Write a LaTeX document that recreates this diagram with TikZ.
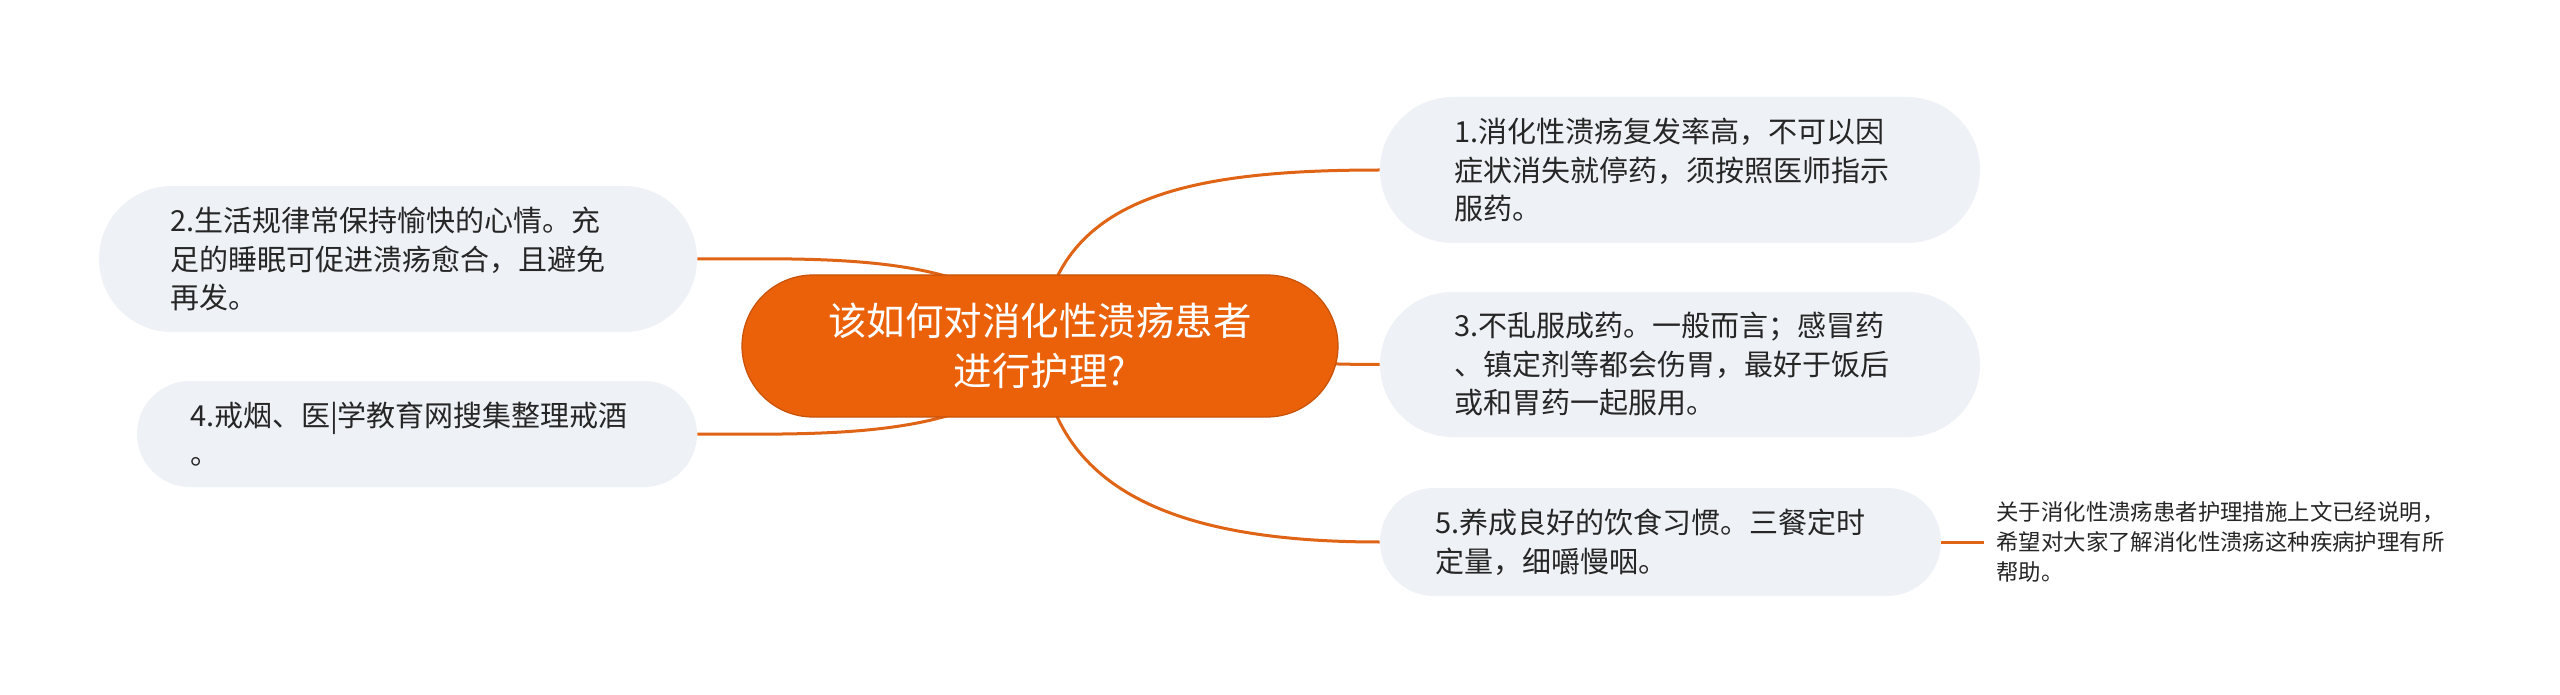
\documentclass[tikz,border=0pt]{standalone}
\usepackage{fontspec}
\setmainfont{Noto Sans CJK SC}
\definecolor{oranzna}{RGB}{234,97,10}
\definecolor{crta}{RGB}{224,100,22}
\definecolor{siva}{RGB}{238,241,245}
\definecolor{besedilo}{RGB}{38,38,38}
\pgfdeclarelayer{ozadje}
\pgfsetlayers{ozadje,main}
\begin{document}
\begin{tikzpicture}[x=0.5pt, y=-0.5pt,
  tema/.style={fill=oranzna, draw=oranzna!85!black, line width=0.6pt, text=white, align=center,
    minimum width=298pt, minimum height=71pt, rounded corners=35.5pt,
    font=\fontsize{19.25pt}{25pt}\selectfont},
  veja/.style={fill=siva, text=besedilo, align=left, inner ysep=0pt,
    font=\fontsize{14.5pt}{19.25pt}\selectfont},
  opomba/.style={text=besedilo, align=left, inner xsep=6pt,
    font=\fontsize{11.2pt}{15pt}\selectfont},
  povezava/.style={draw=crta, line width=1.5pt}]
  % okvir
  \useasboundingbox (0, 0) rectangle (2560, 695);
  % vozlišča
  \node [tema] (T) at (1040, 346) {该如何对消化性溃疡患者\\进行护理?};
  \node [veja, text width=226pt, inner xsep=37pt, minimum height=73pt, rounded corners=36.5pt]
    (V1) at (1680, 170) {1.消化性溃疡复发率高，不可以因\\症状消失就停药，须按照医师指示\\服药。};
  \node [veja, text width=228pt, inner xsep=35.5pt, minimum height=73pt, rounded corners=36.5pt]
    (V2) at (398, 259) {2.生活规律常保持愉快的心情。充\\足的睡眠可促进溃疡愈合，且避免\\再发。};
  \node [veja, text width=226pt, inner xsep=37pt, minimum height=72.5pt, rounded corners=36.25pt]
    (V3) at (1680, 364.5) {3.不乱服成药。一般而言；感冒药\\、镇定剂等都会伤胃，最好于饭后\\或和胃药一起服用。};
  \node [veja, text width=227pt, inner xsep=26.5pt, minimum height=53pt, rounded corners=26.5pt]
    (V4) at (417, 434) {4.戒烟、医|学教育网搜集整理戒酒\\。};
  \node [veja, text width=225.5pt, inner xsep=27.5pt, minimum height=54pt, rounded corners=27pt]
    (V5) at (1660.5, 542) {5.养成良好的饮食习惯。三餐定时\\定量，细嚼慢咽。};
  \node [opomba, anchor=west] (O) at (1984, 542)
    {关于消化性溃疡患者护理措施上文已经说明，\\希望对大家了解消化性溃疡这种疾病护理有所\\帮助。};
  % povezave
  \begin{pgfonlayer}{ozadje}
    \fill [white] (0, 0) rectangle (2560, 695);
    \draw [povezava] (T.center) .. controls +(10, -146) and +(-201, 0) .. (V1.west);
    \draw [povezava] (T.center) .. controls +(150, 0) and +(-150, 0) .. (V3.west);
    \draw [povezava] (T.center) .. controls +(10, 146) and +(-201, 0) .. (V5.west);
    \draw [povezava] (T.center) .. controls +(-40, -96) and +(123, 0) .. (V2.east);
    \draw [povezava] (T.center) .. controls +(-40, 96) and +(123, 0) .. (V4.east);
    \draw [povezava] (V5.east) -- (O.west);
  \end{pgfonlayer}
\end{tikzpicture}
\end{document}
